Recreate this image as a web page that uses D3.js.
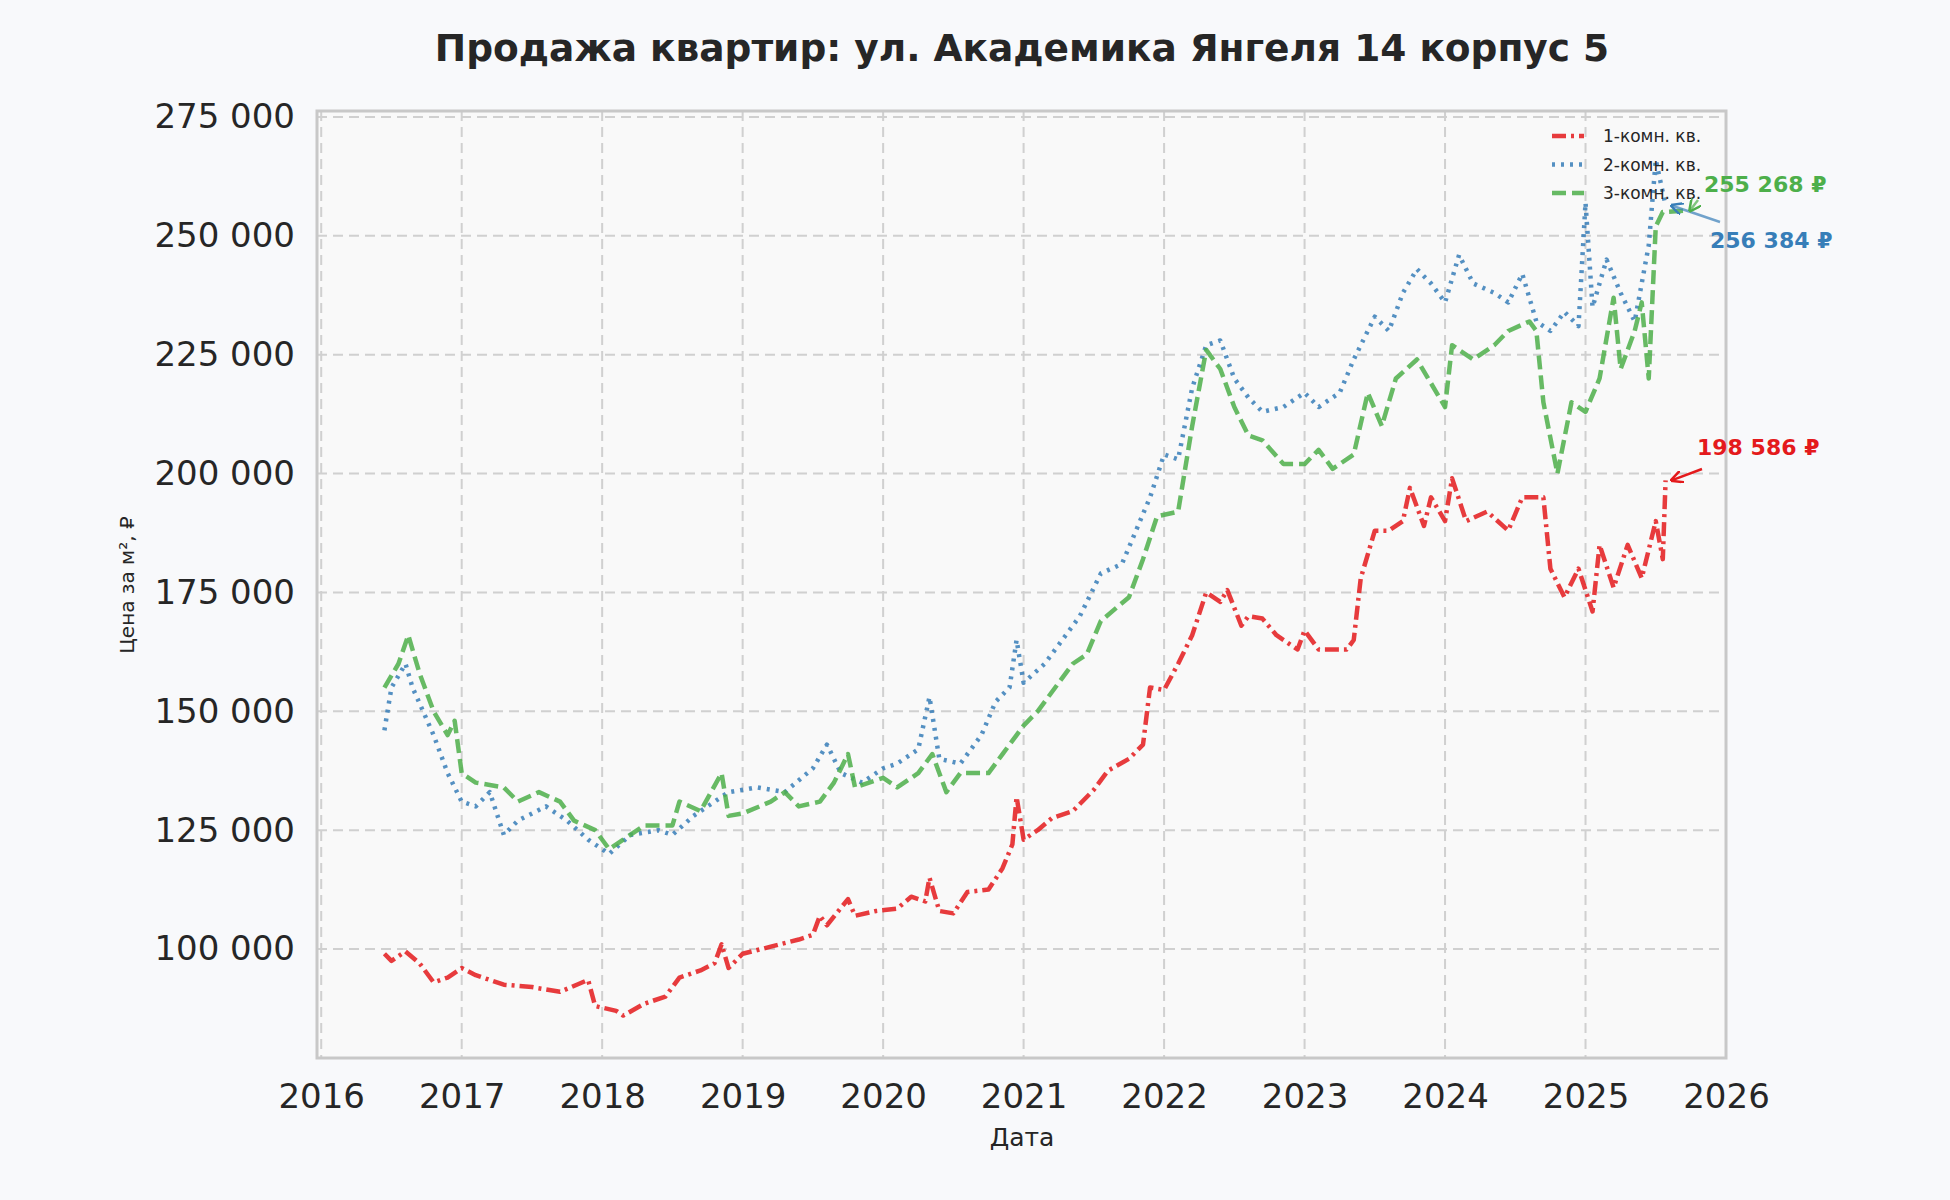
<!DOCTYPE html><html><head><meta charset="utf-8"><script src="https://cdn.jsdelivr.net/npm/d3@7"></script>
<style>body{margin:0;background:#f8f9fb}svg{font-family:"DejaVu Sans",sans-serif}</style></head><body><svg id="c" width="1950" height="1200"></svg>
<script>
const seriesNames=["1-комн. кв.","2-комн. кв.","3-комн. кв."];
const colors=["#e41a1c","#377eb8","#4daf4a"];
const dashes=["14,5,3,5","3,6","14,6"];
const yTicks=[100000,125000,150000,175000,200000,225000,250000,275000];
const xTicks=[2016,2017,2018,2019,2020,2021,2022,2023,2024,2025,2026];
const room1=[[2016.45,99000],[2016.5,97500],[2016.6,99500],[2016.7,97000],[2016.8,93000],[2016.9,94000],[2017.0,96000],[2017.1,94500],[2017.3,92500],[2017.5,92000],[2017.7,91000],[2017.9,93500],[2017.95,88000],[2018.1,87000],[2018.15,86000],[2018.3,88500],[2018.45,90000],[2018.55,94000],[2018.7,95500],[2018.8,97000],[2018.85,101000],[2018.9,96000],[2019.0,99000],[2019.2,100500],[2019.4,102000],[2019.5,103000],[2019.55,107000],[2019.6,105000],[2019.75,110500],[2019.8,107000],[2019.95,108000],[2020.1,108500],[2020.2,111000],[2020.3,110000],[2020.33,115000],[2020.4,108000],[2020.5,107500],[2020.6,112000],[2020.75,112500],[2020.85,117000],[2020.92,122000],[2020.95,132000],[2021.0,123000],[2021.1,125000],[2021.2,127500],[2021.35,129000],[2021.5,133500],[2021.6,137500],[2021.75,140000],[2021.85,143000],[2021.9,155000],[2022.0,154500],[2022.1,160000],[2022.2,166000],[2022.3,175000],[2022.4,173000],[2022.45,175500],[2022.55,168000],[2022.6,170000],[2022.7,169500],[2022.8,166000],[2022.95,163000],[2023.0,167000],[2023.1,163000],[2023.3,163000],[2023.35,165000],[2023.4,178000],[2023.5,188000],[2023.6,188000],[2023.7,190000],[2023.75,197000],[2023.85,189000],[2023.9,195000],[2024.0,190000],[2024.05,199000],[2024.15,190000],[2024.3,192000],[2024.45,188000],[2024.55,195000],[2024.7,195000],[2024.75,180000],[2024.85,174000],[2024.95,180000],[2025.05,171000],[2025.1,185000],[2025.2,176000],[2025.3,185000],[2025.4,178000],[2025.5,190000],[2025.55,182000],[2025.57,198586]];
const room2=[[2016.45,146000],[2016.5,155000],[2016.6,160000],[2016.65,155000],[2016.8,145000],[2016.9,137000],[2017.0,131000],[2017.1,130000],[2017.2,133000],[2017.3,124000],[2017.4,127000],[2017.6,130000],[2017.75,127000],[2017.9,123000],[2018.05,120000],[2018.2,124000],[2018.4,125000],[2018.5,124000],[2018.65,128000],[2018.8,131000],[2018.9,133000],[2019.1,134000],[2019.3,133000],[2019.5,138000],[2019.6,143000],[2019.7,137000],[2019.85,135000],[2020.0,138000],[2020.1,139000],[2020.25,142000],[2020.33,153000],[2020.4,140000],[2020.55,139000],[2020.7,145000],[2020.8,152000],[2020.9,155000],[2020.95,165000],[2021.0,156000],[2021.15,160000],[2021.3,166000],[2021.4,170000],[2021.55,179000],[2021.7,181000],[2021.8,188000],[2021.9,195000],[2022.0,204000],[2022.1,203000],[2022.2,218000],[2022.3,227000],[2022.4,228000],[2022.5,220000],[2022.6,216000],[2022.7,213000],[2022.85,214000],[2023.0,217000],[2023.1,214000],[2023.25,217000],[2023.35,224000],[2023.5,233000],[2023.6,230000],[2023.7,238000],[2023.8,243000],[2023.9,240000],[2024.0,236000],[2024.1,246000],[2024.2,240000],[2024.35,238000],[2024.45,236000],[2024.55,242000],[2024.65,232000],[2024.75,230000],[2024.85,234000],[2024.95,231000],[2025.0,257000],[2025.05,235000],[2025.15,245000],[2025.25,238000],[2025.35,232000],[2025.45,248000],[2025.5,266000],[2025.57,256384]];
const room3=[[2016.45,155000],[2016.55,160000],[2016.62,166000],[2016.7,158000],[2016.8,150000],[2016.9,145000],[2016.95,148000],[2017.0,137000],[2017.1,135000],[2017.3,134000],[2017.4,131000],[2017.55,133000],[2017.7,131000],[2017.8,127000],[2017.95,125000],[2018.05,121000],[2018.15,123000],[2018.3,126000],[2018.5,126000],[2018.55,131000],[2018.7,129000],[2018.85,137000],[2018.9,128000],[2019.0,128500],[2019.2,131000],[2019.3,133000],[2019.4,130000],[2019.55,131000],[2019.65,135000],[2019.75,141000],[2019.8,134000],[2020.0,136000],[2020.1,134000],[2020.25,137000],[2020.35,141000],[2020.45,133000],[2020.55,137000],[2020.75,137000],[2020.85,141000],[2020.95,145000],[2021.0,147000],[2021.1,150000],[2021.25,156000],[2021.35,160000],[2021.45,162000],[2021.55,169000],[2021.75,174000],[2021.85,182000],[2021.95,191000],[2022.1,192000],[2022.2,210000],[2022.3,226000],[2022.4,222000],[2022.5,214000],[2022.6,208000],[2022.7,207000],[2022.85,202000],[2023.0,202000],[2023.1,205000],[2023.2,201000],[2023.35,204000],[2023.45,217000],[2023.55,210000],[2023.65,220000],[2023.8,224000],[2023.9,219000],[2024.0,214000],[2024.05,227000],[2024.2,224000],[2024.35,227000],[2024.45,230000],[2024.6,232000],[2024.65,230000],[2024.7,215000],[2024.8,200000],[2024.9,215000],[2025.0,213000],[2025.1,220000],[2025.2,237000],[2025.25,222000],[2025.35,230000],[2025.4,236000],[2025.45,220000],[2025.5,252000],[2025.55,255000],[2025.7,255268]];
const endLabels=["198 586 ₽","256 384 ₽","255 268 ₽"];
const series=[room1,room2,room3];

const svg=d3.select("#c");
const L=317,R=1726,T=111,B=1058;
const x=d3.scaleLinear().domain([2015.97,2026]).range([L,R]);
const y=d3.scaleLinear().domain([77080,276260]).range([B,T]);
svg.append("rect").attr("x",L).attr("y",T).attr("width",R-L).attr("height",B-T).attr("fill","#f9f9f9");
const g=svg.append("g");
g.selectAll(".gx").data(xTicks).join("line").attr("x1",d=>x(d)).attr("x2",d=>x(d)).attr("y1",T).attr("y2",B).attr("stroke","#d0d0d0").attr("stroke-width",2).attr("stroke-dasharray","10,6");
g.selectAll(".gy").data(yTicks).join("line").attr("y1",d=>y(d)).attr("y2",d=>y(d)).attr("x1",L).attr("x2",R).attr("stroke","#d0d0d0").attr("stroke-width",2).attr("stroke-dasharray","10,6");
const xa=svg.append("g").attr("transform",`translate(0,${B})`).call(d3.axisBottom(x).tickValues(xTicks).tickFormat(d=>d).tickSize(0).tickPadding(26));
const ya=svg.append("g").attr("transform",`translate(${L},0)`).call(d3.axisLeft(y).tickValues(yTicks).tickFormat(d=>d3.format(",")(d).replace(/,/g," ")).tickSize(0).tickPadding(22));
[xa,ya].forEach(a=>{a.select(".domain").remove();a.selectAll("text").attr("font-size",34).attr("fill","#262626").attr("font-family","DejaVu Sans");});
const line=d3.line().x(d=>x(d[0])).y(d=>y(d[1]));
series.forEach((s,i)=>svg.append("path").attr("d",line(s)).attr("fill","none").attr("stroke",colors[i]).attr("stroke-opacity",0.85).attr("stroke-width",4.5).attr("stroke-dasharray",dashes[i]).attr("stroke-linejoin","round"));
svg.append("rect").attr("x",L).attr("y",T).attr("width",R-L).attr("height",B-T).attr("fill","none").attr("stroke","#c8c8c8").attr("stroke-width",3);
seriesNames.forEach((n,i)=>{const yy=136+i*28.5;
svg.append("line").attr("x1",1552).attr("x2",1584).attr("y1",yy).attr("y2",yy).attr("stroke",colors[i]).attr("stroke-opacity",0.85).attr("stroke-width",4.5).attr("stroke-dasharray",dashes[i]);
svg.append("text").attr("x",1603).attr("y",yy+6).attr("font-size",17).attr("fill","#262626").text(n);});
const annPos=[[1697,455],[1710,248],[1704,192]];
const arrowFrom=[[1702,469],[1720,222],[1698,200]];
svg.append("defs").selectAll("marker").data(colors).join("marker").attr("id",(d,i)=>"m"+i).attr("viewBox","0 0 10 10").attr("refX",9).attr("refY",5).attr("markerWidth",5).attr("markerHeight",5).attr("orient","auto").append("path").attr("d","M0,0L10,5L0,10").attr("fill","none").attr("stroke",d=>d).attr("stroke-width",2);
series.forEach((s,i)=>{const last=s[s.length-1];
svg.append("line").attr("x1",arrowFrom[i][0]).attr("y1",arrowFrom[i][1]).attr("x2",x(last[0])+6).attr("y2",y(last[1])).attr("stroke",colors[i]).attr("stroke-width",2.5).attr("stroke-opacity",i==0?1:0.7).attr("marker-end",`url(#m${i})`);
svg.append("text").attr("x",annPos[i][0]).attr("y",annPos[i][1]).attr("font-size",22).attr("font-weight","bold").attr("fill",colors[i]).text(endLabels[i]);});
svg.append("text").attr("x",1022).attr("y",61).attr("text-anchor","middle").attr("font-size",37.5).attr("font-weight","bold").attr("fill","#262626").text("Продажа квартир: ул. Академика Янгеля 14 корпус 5");
svg.append("text").attr("x",1022).attr("y",1146).attr("text-anchor","middle").attr("font-size",25).attr("fill","#262626").text("Дата");
svg.append("text").attr("transform","translate(134,585) rotate(-90)").attr("text-anchor","middle").attr("font-size",20).attr("fill","#262626").text("Цена за м², ₽");
</script></body></html>
